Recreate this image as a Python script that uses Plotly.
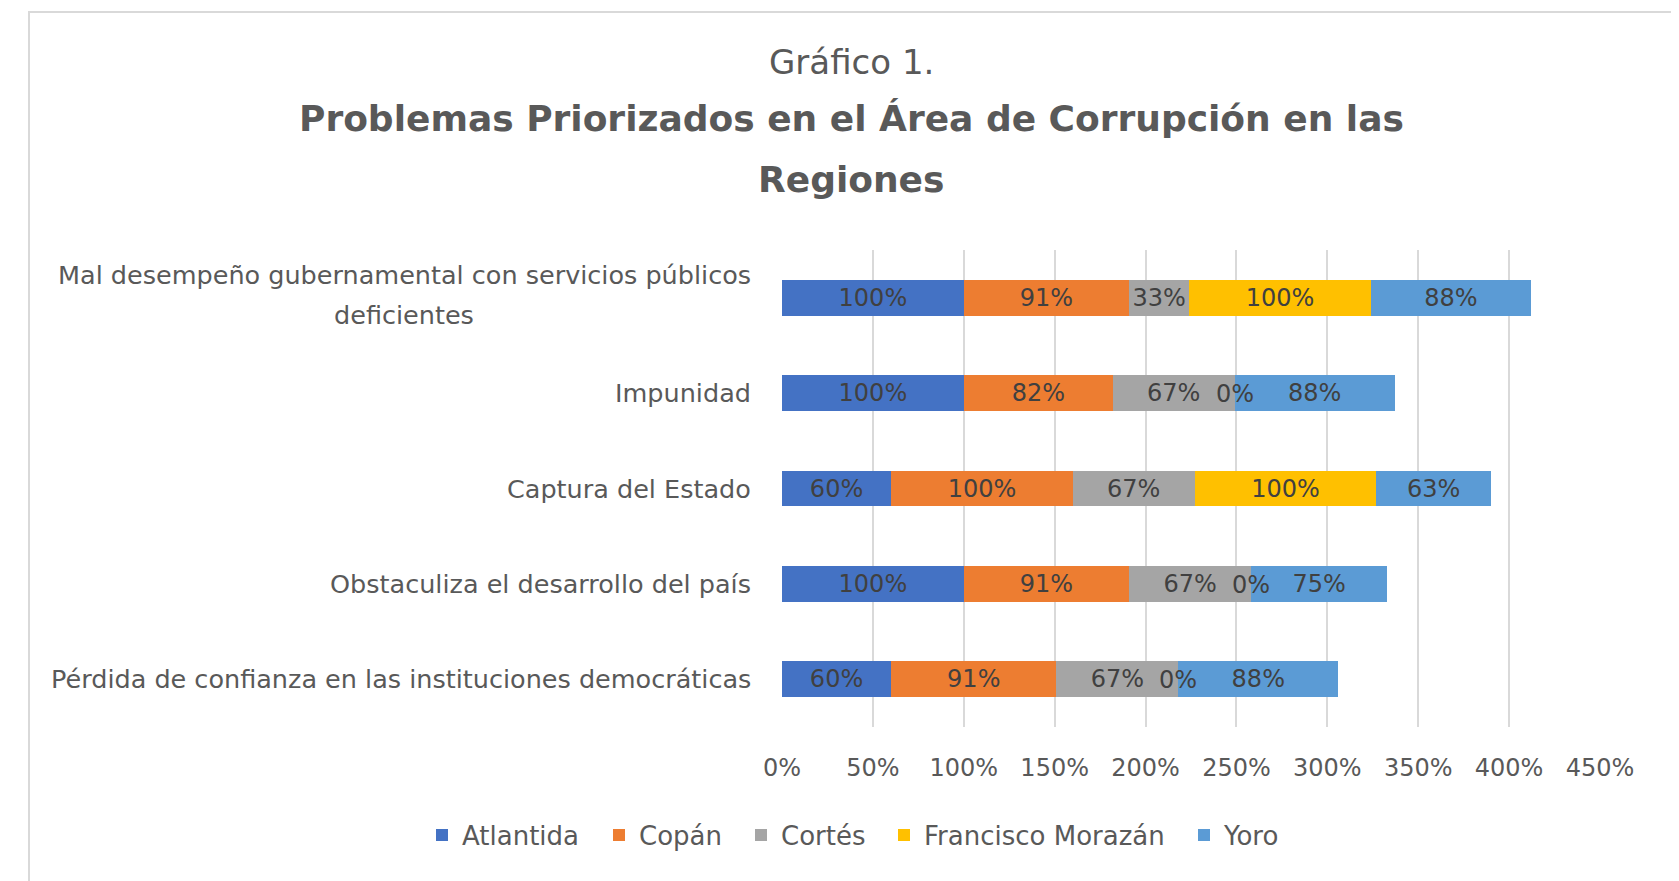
import plotly.graph_objects as go

categories = [
    "Mal desempeño gubernamental con servicios públicos<br>deficientes",
    "Impunidad",
    "Captura del Estado",
    "Obstaculiza el desarrollo del país",
    "Pérdida de confianza en las instituciones democráticas",
]
series_names = ["Atlantida", "Copán", "Cortés", "Francisco Morazán", "Yoro"]
atlantida = [100, 100, 60, 100, 60]
copan = [91, 82, 100, 91, 91]
cortes = [33, 67, 67, 67, 67]
francisco_morazan = [100, 0, 100, 0, 0]
yoro = [88, 88, 63, 75, 88]
series_values = [atlantida, copan, cortes, francisco_morazan, yoro]
colors = ["#4472C4", "#ED7D31", "#A5A5A5", "#FFC000", "#5B9BD5"]
tick_values = [0, 50, 100, 150, 200, 250, 300, 350, 400, 450]
tick_labels = ["0%", "50%", "100%", "150%", "200%", "250%", "300%", "350%", "400%", "450%"]

FONT = "DejaVu Sans"
OFF = 8  # page body margin
W, H = 1671, 873
L, T = 774, 242
pw, ph = 818, 477
R, B = W - L - pw, H - T - ph

def px_x(p):  # page pixel -> paper x
    return (p - OFF - L) / pw

def px_y(p):  # page pixel -> paper y
    return (T + ph - (p - OFF)) / ph

fig = go.Figure()
ids = list(range(len(categories)))
cum = [0] * len(categories)
zero_x, zero_y = [], []
legend_left = [437, 614, 756, 899, 1199]
legend_keys = ["legend", "legend2", "legend3", "legend4", "legend5"]
label_font = dict(family=FONT, size=24, color="#404040")
for k, (name, vals, col) in enumerate(zip(series_names, series_values, colors)):
    for i, v in enumerate(vals):
        if v == 0:
            zero_x.append(cum[i])
            zero_y.append(i)
    fig.add_trace(go.Bar(
        name=name, y=ids, x=vals, orientation="h",
        marker=dict(color=col, line=dict(width=0)),
        text=[f"{v}%" if v else "" for v in vals],
        textposition="inside", insidetextanchor="middle", textangle=0,
        constraintext="none",
        textfont=label_font,
        hoverinfo="x+name", legend=legend_keys[k],
    ))
    cum = [c + v for c, v in zip(cum, vals)]

TC = 851
annotations = [
    dict(text="Gráfico 1.", x=px_x(TC), y=px_y(62), xref="paper", yref="paper",
         showarrow=False, xanchor="center", yanchor="middle",
         font=dict(family=FONT, size=34, color="#595959")),
    dict(text="<b>Problemas Priorizados en el Área de Corrupción en las</b>", x=px_x(TC), y=px_y(118),
         xref="paper", yref="paper", showarrow=False, xanchor="center", yanchor="middle",
         font=dict(family=FONT, size=36, color="#595959")),
    dict(text="<b>Regiones</b>", x=px_x(TC), y=px_y(179), xref="paper", yref="paper",
         showarrow=False, xanchor="center", yanchor="middle",
         font=dict(family=FONT, size=36, color="#595959")),
]
# labels of zero-width segments
for zx, zy in zip(zero_x, zero_y):
    annotations.append(dict(text="0%", x=zx, y=zy, xref="x", yref="y", showarrow=False,
                            xanchor="center", yanchor="middle", yshift=-1, font=label_font))

cat_font = dict(family=FONT, size=25.5, color="#595959")
for i, c in enumerate(categories):
    lines = c.split("<br>")
    if len(lines) == 1:
        annotations.append(dict(
            text=c, x=0, y=i, xref="paper", yref="y", xanchor="right", yanchor="middle",
            xshift=-29, showarrow=False, font=cat_font))
    else:
        annotations.append(dict(
            text=lines[0], x=0, y=i, xref="paper", yref="y", xanchor="right", yanchor="middle",
            xshift=-29, yshift=23, showarrow=False, font=cat_font))
        annotations.append(dict(
            text=lines[1], x=px_x(404), y=i, xref="paper", yref="y", xanchor="center",
            yanchor="middle", yshift=-17, showarrow=False, font=cat_font))

layout_legends = {}
for k, key in enumerate(legend_keys):
    layout_legends[key] = dict(
        orientation="h", x=px_x(legend_left[k] - 15), y=px_y(835), xanchor="left",
        yanchor="middle", font=dict(family=FONT, size=26, color="#595959"),
        itemwidth=30, bgcolor="rgba(0,0,0,0)")

fig.update_layout(
    width=W, height=H,
    margin=dict(l=L, r=R, t=T, b=B),
    barmode="stack", bargap=0.623,
    plot_bgcolor="white", paper_bgcolor="white",
    font=dict(family=FONT, color="#595959"),
    xaxis=dict(range=[0, 450], tickvals=tick_values, ticktext=tick_labels,
               showgrid=True, gridcolor="#D9D9D9", gridwidth=1.5,
               zeroline=False, showline=False, ticks="",
               tickfont=dict(family=FONT, size=24, color="#595959"),
               ticklabelstandoff=24, fixedrange=True),
    yaxis=dict(tickvals=ids, showticklabels=False, autorange="reversed",
               showgrid=False, zeroline=False, showline=False, fixedrange=True),
    annotations=annotations,
    shapes=[dict(type="rect", xref="paper", yref="paper",
                 x0=px_x(29), x1=px_x(1674), y0=px_y(900), y1=px_y(12),
                 line=dict(color="#D9D9D9", width=2), layer="below")],
    showlegend=True,
    **layout_legends,
)
fig.write_html("out.html")
